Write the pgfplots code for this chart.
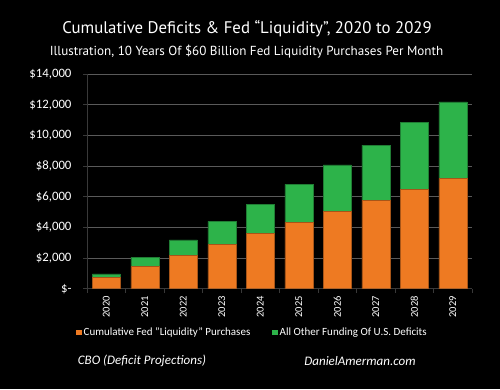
\documentclass[border=0pt]{standalone}
\usepackage{pgfplots}
\pgfplotsset{compat=1.18}
\usepackage{fontspec}
\setmainfont{Carlito}
\newfontfamily\titlefont{PT Sans}
\definecolor{barorange}{HTML}{EE7A22}
\definecolor{bargreen}{HTML}{2DB34A}
\definecolor{gridgray}{HTML}{5A5A5A}
\begin{document}
\begin{tikzpicture}[x=1pt,y=1pt]
\fill[black] (0,0) rectangle (500,389);
\node[text=white,font=\titlefont\fontsize{16.8}{20}\selectfont] at (247,360) {Cumulative Deficits \& Fed “Liquidity”, 2020 to 2029};
\node[text=white,font=\titlefont\fontsize{13.1}{15}\selectfont] at (246.5,337) {Illustration, 10 Years Of \$60 Billion Fed Liquidity Purchases Per Month};
\node[text=white,font=\itshape\fontsize{13}{15}\selectfont] at (142,28) {CBO (Deficit Projections)};
\node[text=white,font=\itshape\fontsize{13}{15}\selectfont] at (360,28) {DanielAmerman.com};
\begin{axis}[
  at={(87pt,100.3pt)}, anchor=south west,
  scale only axis, width=385pt, height=214.7pt,
  ybar stacked, bar width=28pt,
  xmin=-0.5, xmax=9.5, ymin=0, ymax=14000,
  scaled y ticks=false,
  axis x line*=bottom, axis y line*=left,
  axis line style={gridgray!120,line width=0.8pt,-},
  xtick={0,...,9},
  xticklabels={2020,2021,2022,2023,2024,2025,2026,2027,2028,2029},
  x tick label style={rotate=90,anchor=east,font=\fontsize{10.5}{12}\selectfont,text=white},
  major x tick style={draw=none},
  minor xtick={-0.5,0.5,...,9.5},
  minor x tick style={gridgray!120,line width=0.8pt},
  minor tick length=4pt,
  tick align=outside,
  ytick={0,2000,...,14000},
  yticklabels={\$-,{\$2,000},{\$4,000},{\$6,000},{\$8,000},{\$10,000},{\$12,000},{\$14,000}},
  y tick label style={font=\fontsize{12.8}{14}\selectfont,text=white,xshift=-8pt},
  major y tick style={gridgray!120,line width=0.8pt},
  major tick length=4pt,
  ymajorgrids, grid style={gridgray,line width=0.8pt},
  legend style={at={(0.43,-0.205)},anchor=center,draw=none,fill=none,text=white,
    font=\fontsize{11}{12}\selectfont,legend columns=2,
    /tikz/every even column/.append style={column sep=20pt}},
  legend image code/.code={\fill[#1,draw=none] (0pt,-2.6pt) rectangle (5.4pt,2.6pt);},
]
\addplot[fill=barorange,draw=barorange!70!black] coordinates {
(0,720) (1,1440) (2,2160) (3,2880) (4,3600) (5,4320) (6,5040) (7,5760) (8,6480) (9,7200)};
\addplot[fill=bargreen,draw=bargreen!70!black] coordinates {
(0,240) (1,610) (2,1030) (3,1510) (4,1920) (5,2480) (6,3040) (7,3610) (8,4370) (9,4990)};
\legend{Cumulative Fed "Liquidity" Purchases, All Other Funding Of U.S. Deficits}
\end{axis}
\end{tikzpicture}
\end{document}
